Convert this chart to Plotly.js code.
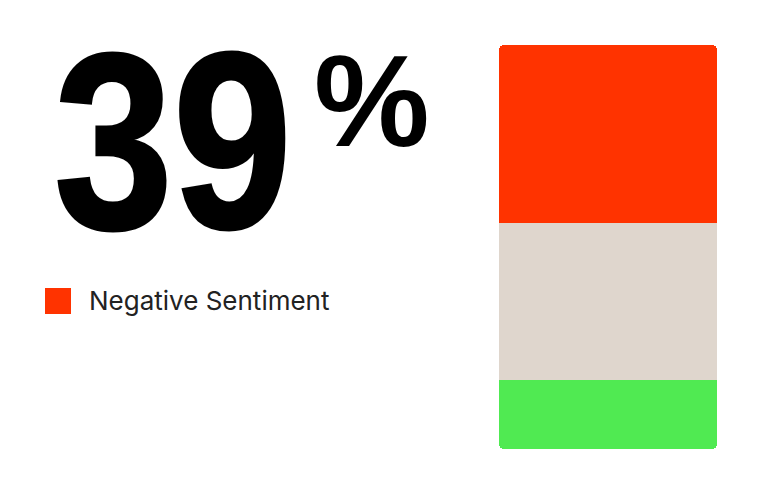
<!DOCTYPE html>
<html>
<head>
<meta charset="utf-8">
<script src="https://cdn.plot.ly/plotly-3.0.1.min.js"></script>
<style>
html,body{margin:0;padding:0;background:#fff;}
#chart{width:762px;height:495px;}
</style>
</head>
<body>
<div id="chart"></div>
<script>
// Data (share of sentiment, %)
var categories = ['Negative Sentiment', 'Neutral Sentiment', 'Positive Sentiment'];
var values = [44, 39, 17];
var colors = ['#FF3300', '#DFD6CD', '#50EA52'];
var headlineValue = '39';
var headlineUnit = '%';
var legendLabel = 'Negative Sentiment';

// Relative stack: green below the baseline (drawn downward), beige then red above it,
// so the stack's two outer ends (top of red, bottom of green) get the rounded corners.
var traces = [
  {type:'bar', x:['s'], y:[-values[2]], name:categories[2],
   marker:{color:colors[2], cornerradius:5}, showlegend:false, hoverinfo:'skip'},
  {type:'bar', x:['s'], y:[values[1]], name:categories[1],
   marker:{color:colors[1]}, showlegend:false, hoverinfo:'skip'},
  {type:'bar', x:['s'], y:[values[0]], name:categories[0],
   marker:{color:colors[0]}, showlegend:false, hoverinfo:'skip'}
];

var W = 762, H = 495;
function px(x){return x / W;}
function py(y){return (H - y) / H;}

var layout = {
  width: W, height: H,
  margin:{l:0,r:0,t:0,b:0},
  paper_bgcolor:'#ffffff', plot_bgcolor:'#ffffff',
  barmode:'relative', bargap:0,
  xaxis:{domain:[px(499), px(717)], range:[-0.5,0.5], visible:false, fixedrange:true},
  yaxis:{domain:[py(449), py(45)], range:[-values[2], values[0] + values[1]], visible:false, fixedrange:true},
  showlegend:false,
  annotations:[
    {xref:'paper', yref:'paper', x:px(173), y:py(142), xanchor:'center', yanchor:'middle',
     width:238, align:'center',
     text:headlineValue, showarrow:false,
     font:{family:'"Liberation Sans", Arial, sans-serif', size:250, color:'#000', weight:700}},
    {xref:'paper', yref:'paper', x:px(312), y:py(101), xanchor:'left', yanchor:'middle',
     text:headlineUnit, showarrow:false,
     font:{family:'"Liberation Sans", Arial, sans-serif', size:130, color:'#000', weight:700}},
    {xref:'paper', yref:'paper', x:px(87), y:py(300), xanchor:'left', yanchor:'middle',
     text:legendLabel, showarrow:false,
     font:{family:'Inter, "Liberation Sans", sans-serif', size:26, color:'#222'}}
  ],
  shapes:[
    {type:'rect', xref:'paper', yref:'paper', x0:px(45), x1:px(71), y0:py(314), y1:py(288),
     fillcolor:colors[0], line:{width:0}}
  ]
};

Plotly.newPlot('chart', traces, layout, {displayModeBar:false, staticPlot:true}).then(function(gd){
  // condense the big headline number to the reference's narrow heavy face
  var t = gd.querySelector('.annotation[data-index="0"] text.annotation-text');
  if (t) {
    t.setAttribute('textLength', '238');
    t.setAttribute('lengthAdjust', 'spacingAndGlyphs');
    t.style.stroke = '#000';
    t.style.strokeWidth = '3px';
  }
});
</script>
</body>
</html>
